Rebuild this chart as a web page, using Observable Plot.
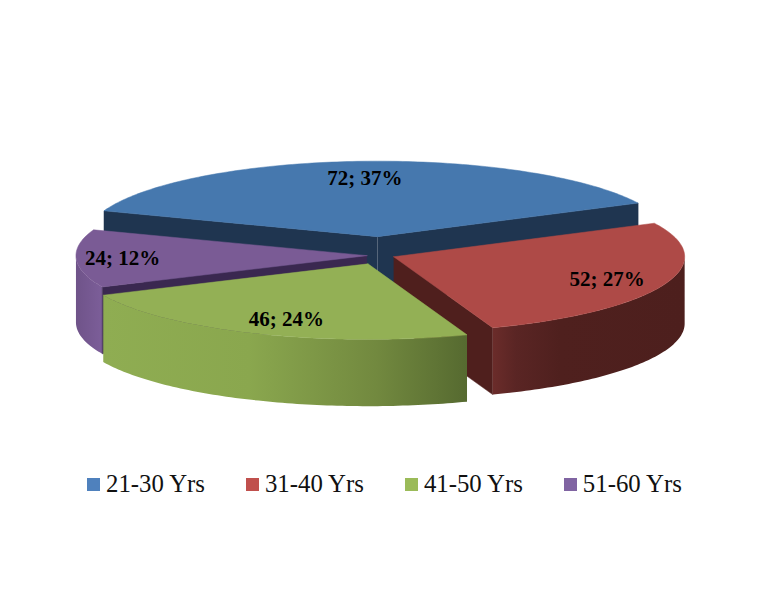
<!DOCTYPE html>
<html><head><meta charset="utf-8">
<script src="https://cdn.jsdelivr.net/npm/d3@7"></script>
<script src="https://cdn.jsdelivr.net/npm/@observablehq/plot@0.6"></script>
<style>
html,body{margin:0;padding:0;background:#fff}
svg{display:block}
#legend{display:flex;gap:41px;padding-left:87px;margin-top:10px;font:24.8px/28px "Liberation Serif",serif;color:#111}
#legend div{display:flex;align-items:center;white-space:nowrap}
#legend i{display:block;width:13px;height:13px;margin-right:6px}
</style></head><body>
<div id="chart"></div><div id="legend"></div>
<script>
const categories=["21-30 Yrs","31-40 Yrs","41-50 Yrs","51-60 Yrs"];
const counts=[72,52,46,24];
const percents=[37,27,24,12];
const topColors=["#4678AE","#AE4A47","#93B055","#7A5B95"];
const legendColors=["#4F81BD","#C0504D","#9BBB59","#8064A2"];
const cutColors=["#1F3550","#4F1F1D","#5A6E32","#3A2850"];
const explode=[0.25,0.045,0.12,0.05];
const labelRadius=[0.77,0.79,0.79,0.84];
const labelShift=[0,0,-2,0];
const startDeg=-70, depth=0.885;
const W=769,H=460,cx=381,cy=255,rx=291,ry=75.5;

const total=d3.sum(counts);
let a=startDeg;
const slices=categories.map((c,i)=>{
  const t0=a; a+=counts[i]/total*360; const t1=a, mid=(t0+t1)/2;
  const rad=mid*Math.PI/180;
  return {i,t0,t1,mid,ox:explode[i]*Math.sin(rad),oy:explode[i]*Math.cos(rad)};
});
const pt=(s,deg,r=1,d=0)=>{const t=deg*Math.PI/180;return {x:s.ox+r*Math.sin(t),y:s.oy+r*Math.cos(t)-d};};
const arc=(s,d=0,from=s.t0,to=s.t1)=>d3.range(from,to,1).concat(to).map(t=>pt(s,t,1,d));
const topFace=s=>[pt(s,s.t0,0),...arc(s),pt(s,s.t0,0)];
// outer wall: only the part of the rim that faces the viewer
const wall=s=>{const from=Math.max(s.t0,90),to=Math.min(s.t1,270);return [...arc(s,0,from,to),...arc(s,depth,from,to).reverse()];};
const cut=(s,deg)=>[pt(s,deg,0),pt(s,deg,1),pt(s,deg,1,depth),pt(s,deg,0,depth)];
const face=(pts,fill)=>Plot.line(pts,{x:"x",y:"y",fill,stroke:fill.startsWith("url")?"none":fill,strokeWidth:0.5,curve:"linear"});
const [blue,red,green,purple]=slices;

const labels=slices.map(s=>({...pt(s,s.mid+labelShift[s.i],labelRadius[s.i]),text:`${counts[s.i]}; ${percents[s.i]}%`}));

const svg=Plot.plot({
  width:W,height:H,margin:0,
  style:{background:"#fff"},
  x:{domain:[-cx/rx,(W-cx)/rx],range:[0,W],axis:null},
  y:{domain:[cy/ry,(cy-H)/ry],range:[0,H],axis:null},
  marks:[
    face(cut(blue,blue.t0),cutColors[0]),
    face(cut(blue,blue.t1),cutColors[0]),
    face(topFace(blue),topColors[0]),
    face(wall(purple),"url(#gPurple)"),
    face(cut(purple,purple.t0),cutColors[3]),
    face(topFace(purple),topColors[3]),
    face(cut(red,red.t1),cutColors[1]),
    face(wall(red),"url(#gRed)"),
    face(topFace(red),topColors[1]),
    face(wall(green),"url(#gGreen)"),
    face(topFace(green),topColors[2]),
    Plot.text(labels,{x:"x",y:"y",text:"text",fontSize:21,fontWeight:"bold",fontFamily:"Liberation Serif",fill:"#000"})
  ]
});
svg.insertAdjacentHTML("afterbegin",`<defs>
<linearGradient id="gRed" x1="1" x2="0" y1="0" y2="0"><stop offset="0" stop-color="#4D1F1D"/><stop offset="0.65" stop-color="#4F201E"/><stop offset="0.88" stop-color="#5A2524"/><stop offset="1" stop-color="#6B2C2A"/></linearGradient>
<linearGradient id="gGreen" x1="0" x2="1" y1="0" y2="0"><stop offset="0" stop-color="#8FAD52"/><stop offset="0.4" stop-color="#8AA74E"/><stop offset="0.75" stop-color="#72893F"/><stop offset="1" stop-color="#566A30"/></linearGradient>
<linearGradient id="gPurple" x1="0" x2="1" y1="0" y2="0"><stop offset="0" stop-color="#6F5389"/><stop offset="1" stop-color="#7C5E99"/></linearGradient>
</defs>`);
document.getElementById("chart").append(svg);
const lg=d3.select("#legend").selectAll("div").data(categories).join("div");
lg.append("i").style("background",(d,i)=>legendColors[i]);
lg.append("span").text(d=>d);
</script>
</body></html>
